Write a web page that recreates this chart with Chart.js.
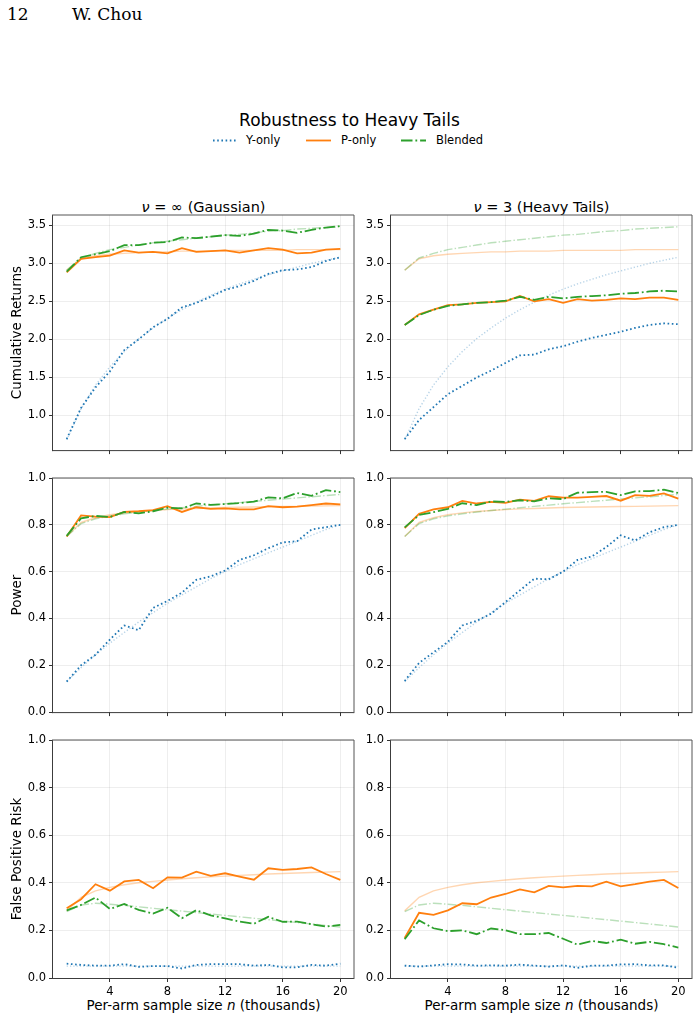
<!DOCTYPE html>
<html><head><meta charset="utf-8">
<script src="https://cdn.jsdelivr.net/npm/chart.js@4.4.0/dist/chart.umd.min.js"></script>
<style>
html,body{margin:0;padding:0;background:#fff;}
body{width:699px;height:1020px;position:relative;overflow:hidden;font-family:'DejaVu Sans';}
.t{position:absolute;white-space:nowrap;line-height:1;color:#000;}
canvas{position:absolute;}
</style></head><body>
<div class="t" style="left:7px;top:5.5px;font-family:'DejaVu Serif';font-size:17px;">12</div>
<div class="t" style="left:72px;top:5.5px;font-family:'DejaVu Serif';font-size:17px;">W. Chou</div>
<div class="t" style="left:0;width:699px;text-align:center;top:112px;font-size:17px;">Robustness to Heavy Tails</div>
<svg style="position:absolute;left:0;top:0" width="699" height="200">
<line x1="213" y1="140.5" x2="238" y2="140.5" stroke="#1f77b4" stroke-width="1.8" stroke-dasharray="1.6 2.6"/>
<line x1="306" y1="140.5" x2="331" y2="140.5" stroke="#ff7f0e" stroke-width="1.8"/>
<line x1="401" y1="140.5" x2="426" y2="140.5" stroke="#2ca02c" stroke-width="1.8" stroke-dasharray="11.5 2.9 1.8 2.9"/>
</svg>
<div class="t" style="left:246px;top:135px;font-size:11.5px;">Y-only</div>
<div class="t" style="left:341px;top:135px;font-size:11.5px;">P-only</div>
<div class="t" style="left:436px;top:135px;font-size:11.5px;">Blended</div>
<div class="t" style="left:53px;width:301px;text-align:center;top:199.5px;font-size:14.5px;"><i>ν</i> = ∞ (Gaussian)</div>
<div class="t" style="left:391px;width:301px;text-align:center;top:199.5px;font-size:14.5px;"><i>ν</i> = 3 (Heavy Tails)</div>
<div class="t" style="left:53px;width:301px;text-align:center;top:998.5px;font-size:13.5px;">Per-arm sample size <i>n</i> (thousands)</div>
<div class="t" style="left:391px;width:301px;text-align:center;top:998.5px;font-size:13.5px;">Per-arm sample size <i>n</i> (thousands)</div>
<canvas id="c0"></canvas><canvas id="c1"></canvas><canvas id="c2"></canvas>
<canvas id="c3"></canvas><canvas id="c4"></canvas><canvas id="c5"></canvas>
<script>
// ---- data ----
const nValues = [1,2,3,4,5,6,7,8,9,10,11,12,13,14,15,16,17,18,19,20];
const xTicks = [4,8,12,16,20];
const crTicks = [1.0,1.5,2.0,2.5,3.0,3.5];
const probTicks = [0.0,0.2,0.4,0.6,0.8,1.0];
const seriesNames = ['Y-only','P-only','Blended'];
const rowLabels = ['Cumulative Returns','Power','False Positive Risk'];
const colTitles = ['ν = ∞ (Gaussian)','ν = 3 (Heavy Tails)'];

// Cumulative returns
const crGaussY = [0.69,1.10,1.37,1.58,1.86,2.00,2.16,2.27,2.42,2.48,2.56,2.65,2.70,2.77,2.86,2.91,2.92,2.95,3.03,3.08];
const crGaussP = [2.88,3.06,3.08,3.10,3.17,3.14,3.15,3.13,3.20,3.15,3.16,3.17,3.14,3.17,3.20,3.18,3.13,3.14,3.18,3.19];
const crGaussB = [2.89,3.08,3.12,3.16,3.24,3.24,3.27,3.28,3.34,3.33,3.35,3.37,3.36,3.39,3.44,3.43,3.40,3.44,3.47,3.49];
const crHeavyY = [0.69,0.94,1.11,1.28,1.39,1.50,1.59,1.69,1.79,1.80,1.87,1.91,1.97,2.02,2.06,2.10,2.15,2.19,2.21,2.20];
const crHeavyP = [2.19,2.33,2.39,2.45,2.46,2.48,2.49,2.50,2.57,2.50,2.53,2.48,2.53,2.51,2.52,2.54,2.53,2.55,2.55,2.52];
const crHeavyB = [2.19,2.32,2.39,2.44,2.46,2.48,2.49,2.51,2.56,2.52,2.56,2.54,2.56,2.57,2.58,2.60,2.61,2.63,2.64,2.63];
const crRefY = [0.68,1.09,1.40,1.64,1.84,2.01,2.15,2.28,2.39,2.49,2.58,2.66,2.73,2.79,2.85,2.90,2.95,3.00,3.04,3.08];
const crRefP = [2.91,3.06,3.10,3.12,3.13,3.14,3.15,3.15,3.16,3.16,3.16,3.17,3.17,3.17,3.17,3.17,3.18,3.18,3.18,3.18];
const crRefB = [2.91,3.07,3.13,3.18,3.21,3.24,3.27,3.29,3.31,3.33,3.35,3.37,3.38,3.40,3.42,3.43,3.45,3.46,3.47,3.48];

// Power
const pwGaussY = [0.13,0.20,0.245,0.31,0.37,0.35,0.445,0.475,0.51,0.565,0.58,0.605,0.65,0.67,0.70,0.725,0.73,0.78,0.79,0.80];
const pwGaussP = [0.75,0.84,0.835,0.833,0.855,0.858,0.863,0.88,0.855,0.875,0.868,0.87,0.866,0.866,0.88,0.875,0.878,0.884,0.891,0.887];
const pwGaussB = [0.753,0.828,0.838,0.833,0.855,0.849,0.858,0.873,0.87,0.891,0.885,0.889,0.893,0.899,0.917,0.913,0.936,0.924,0.948,0.94];
const pwHeavyY = [0.133,0.21,0.255,0.30,0.37,0.39,0.42,0.47,0.52,0.57,0.567,0.60,0.65,0.665,0.705,0.755,0.733,0.768,0.79,0.80];
const pwHeavyP = [0.786,0.847,0.866,0.875,0.902,0.891,0.898,0.894,0.908,0.902,0.922,0.916,0.916,0.919,0.923,0.903,0.927,0.924,0.934,0.912];
const pwHeavyB = [0.789,0.842,0.854,0.868,0.892,0.884,0.90,0.898,0.905,0.90,0.913,0.91,0.937,0.94,0.941,0.927,0.943,0.944,0.95,0.936];
const pwRefY = [0.13,0.19,0.245,0.295,0.34,0.385,0.425,0.465,0.50,0.535,0.57,0.60,0.63,0.655,0.68,0.705,0.73,0.755,0.78,0.80];
const pwRefP = [0.75,0.81,0.83,0.843,0.851,0.857,0.861,0.865,0.868,0.870,0.872,0.874,0.875,0.876,0.877,0.878,0.879,0.880,0.881,0.882];
const pwRefB = [0.75,0.805,0.826,0.838,0.847,0.855,0.861,0.867,0.873,0.879,0.884,0.89,0.895,0.90,0.905,0.91,0.915,0.92,0.925,0.93];

// False positive risk
const fpGaussY = [0.06,0.055,0.052,0.052,0.058,0.047,0.05,0.05,0.04,0.055,0.058,0.058,0.058,0.052,0.055,0.045,0.045,0.055,0.052,0.06];
const fpGaussP = [0.293,0.331,0.394,0.367,0.406,0.412,0.377,0.423,0.422,0.447,0.429,0.44,0.426,0.413,0.461,0.454,0.458,0.465,0.437,0.412];
const fpGaussB = [0.284,0.307,0.338,0.29,0.311,0.286,0.271,0.295,0.251,0.285,0.263,0.251,0.237,0.228,0.257,0.236,0.237,0.226,0.216,0.223];
const fpHeavyY = [0.052,0.048,0.053,0.058,0.057,0.052,0.053,0.052,0.056,0.052,0.048,0.053,0.043,0.052,0.052,0.057,0.058,0.053,0.053,0.043];
const fpHeavyP = [0.168,0.274,0.265,0.284,0.314,0.31,0.338,0.353,0.372,0.36,0.387,0.381,0.387,0.385,0.405,0.385,0.394,0.405,0.412,0.378];
const fpHeavyB = [0.163,0.242,0.209,0.197,0.20,0.184,0.208,0.201,0.184,0.184,0.189,0.165,0.14,0.156,0.147,0.161,0.144,0.152,0.142,0.128];
const fpRefY = [0.05,0.05,0.05,0.05,0.05,0.05,0.05,0.05,0.05,0.05,0.05,0.05,0.05,0.05,0.05,0.05,0.05,0.05,0.05,0.05];
const fpRefP = [0.282,0.339,0.366,0.381,0.392,0.400,0.406,0.412,0.417,0.421,0.425,0.428,0.431,0.434,0.437,0.439,0.441,0.443,0.445,0.447];
const fpRefB = [0.279,0.307,0.314,0.31,0.305,0.299,0.293,0.287,0.281,0.275,0.269,0.263,0.257,0.251,0.245,0.239,0.233,0.227,0.221,0.214];

// ---- styling / layout ----
const COLORS = ['#1f77b4','#ff7f0e','#2ca02c'];
const FAINT = ['rgba(31,119,180,0.32)','rgba(255,127,14,0.32)','rgba(44,160,44,0.32)'];
const LW = 1.8, FLW = 1.4;
const dashFor = (k, w) => k === 0 ? [w*0.9, w*1.45] : k === 1 ? [] : [w*6.4, w*1.6, w*1.0, w*1.6];
const ROW_TOP = [215, 478, 740], ROW_BOT = [454, 716, 978];
const COL_LEFT = [53, 391], PLOT_W = 301, YAXIS_W = 53, PAD_TOP = 10;
const FONT = "'DejaVu Sans'";

const pts = arr => nValues.map((n, i) => ({x: n, y: arr[i]}));

const spines = {
  id: 'spines',
  afterDraw(chart) {
    const {ctx, chartArea: a} = chart;
    ctx.save();
    ctx.lineWidth = 1;
    ctx.strokeStyle = '#3c3c3c';
    ctx.beginPath();
    ctx.moveTo(a.left - 0.5, a.top); ctx.lineTo(a.left - 0.5, a.bottom + 1);
    ctx.moveTo(a.left - 1, a.bottom + 0.5); ctx.lineTo(a.right, a.bottom + 0.5);
    ctx.stroke();
    ctx.strokeStyle = '#555';
    ctx.beginPath();
    ctx.moveTo(a.left - 1, a.top); ctx.lineTo(a.right, a.top);
    ctx.moveTo(a.right, a.top); ctx.lineTo(a.right, a.bottom + 1);
    ctx.stroke();
    ctx.restore();
  }
};

const panels = [
  {row:0, col:0, main:[crGaussY,crGaussP,crGaussB], ref:[crRefY,crRefP,crRefB], ticks:crTicks, min:0.545, max:3.635},
  {row:0, col:1, main:[crHeavyY,crHeavyP,crHeavyB], ref:[crRefY,crRefP,crRefB], ticks:crTicks, min:0.545, max:3.635},
  {row:1, col:0, main:[pwGaussY,pwGaussP,pwGaussB], ref:[pwRefY,pwRefP,pwRefB], ticks:probTicks, min:0, max:1},
  {row:1, col:1, main:[pwHeavyY,pwHeavyP,pwHeavyB], ref:[pwRefY,pwRefP,pwRefB], ticks:probTicks, min:0, max:1},
  {row:2, col:0, main:[fpGaussY,fpGaussP,fpGaussB], ref:[fpRefY,fpRefP,fpRefB], ticks:probTicks, min:0, max:1},
  {row:2, col:1, main:[fpHeavyY,fpHeavyP,fpHeavyB], ref:[fpRefY,fpRefP,fpRefB], ticks:probTicks, min:0, max:1}
];

panels.forEach((p, idx) => {
  const cv = document.getElementById('c' + idx);
  const isBottom = p.row === 2;
  const xH = isBottom ? 22 : 6;
  const padR = p.col === 0 ? 10 : 699 - (COL_LEFT[1] + PLOT_W);
  const w = YAXIS_W + PLOT_W + padR;
  const h = PAD_TOP + (ROW_BOT[p.row] - ROW_TOP[p.row]) + xH;
  cv.width = w; cv.height = h;
  cv.style.left = (COL_LEFT[p.col] - YAXIS_W) + 'px';
  cv.style.top = (ROW_TOP[p.row] - PAD_TOP) + 'px';
  cv.style.width = w + 'px'; cv.style.height = h + 'px';

  const datasets = [];
  // main series: Blended on top
  [2,1,0].forEach(k => datasets.push({
    label: seriesNames[k], data: pts(p.main[k]), borderColor: COLORS[k], borderWidth: LW,
    borderDash: dashFor(k, LW), pointRadius: 0, tension: 0, fill: false, borderCapStyle: 'butt'
  }));
  [2,1,0].forEach(k => datasets.push({
    label: seriesNames[k] + ' (ref)', data: pts(p.ref[k]), borderColor: FAINT[k], borderWidth: FLW,
    borderDash: dashFor(k, FLW), pointRadius: 0, tension: 0, fill: false
  }));

  new Chart(cv, {
    type: 'line',
    data: {datasets},
    plugins: [spines],
    options: {
      responsive: false, animation: false, devicePixelRatio: 1,
      layout: {padding: {left: 0, right: padR, top: PAD_TOP, bottom: 0}},
      plugins: {legend: {display: false}, tooltip: {enabled: false}, title: {display: false}},
      scales: {
        x: {
          type: 'linear', min: 0.05, max: 20.95,
          afterBuildTicks: s => { s.ticks = xTicks.map(v => ({value: v})); },
          afterFit: s => { s.height = xH; },
          border: {display: false},
          grid: {color: 'rgba(0,0,0,0.085)', lineWidth: 0.8, tickColor: '#333', tickLength: 4, tickWidth: 1},
          ticks: {display: isBottom, autoSkip: false, maxRotation: 0, padding: 3, color: '#000',
                  font: {family: FONT, size: 11.5}, callback: v => String(v)}
        },
        y: {
          type: 'linear', min: p.min, max: p.max,
          afterBuildTicks: s => { s.ticks = p.ticks.map(v => ({value: v})); },
          afterFit: s => { s.width = YAXIS_W; },
          border: {display: false},
          grid: {color: 'rgba(0,0,0,0.085)', lineWidth: 0.8, tickColor: '#333', tickLength: 4, tickWidth: 1},
          ticks: {padding: 3, color: '#000', font: {family: FONT, size: 11.5}, callback: v => v.toFixed(1)},
          title: {display: p.col === 0, text: rowLabels[p.row], color: '#000',
                  font: {family: FONT, size: 13.5}, padding: {top: 9, bottom: 0}}
        }
      }
    }
  });
});
</script>
</body></html>
